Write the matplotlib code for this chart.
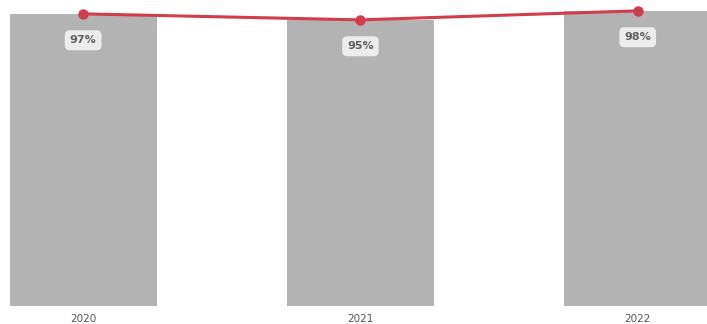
import numpy as np
import matplotlib.pyplot as plt

years = ['2020', '2021', '2022']
values = [97, 95, 98]
labels = ['97%', '95%', '98%']

fig = plt.figure(figsize=(7.07, 3.24), dpi=100)
ax = fig.add_axes([0, 18/324, 1, 306/324])

x = np.arange(len(years))
ax.bar(x, values, width=0.53, color='#b3b3b3', zorder=1)
ax.plot(x, values, color='#d23c4c', lw=2.2, marker='o', ms=6.5, zorder=3)

# value labels in light boxes below the points
for xi, v, lab in zip(x, values, labels):
    ax.annotate(lab, (xi, v), xytext=(0, -19), textcoords='offset points',
                ha='center', va='center', fontsize=8, fontweight='bold', color='#606060',
                bbox=dict(boxstyle='round,pad=0.45', fc='#ececec', ec='none'), zorder=4)

ax.set_xlim(-0.30, 2.25)
ax.set_ylim(0, 101.6)
ax.set_xticks(x)
ax.set_xticklabels(years, fontsize=7.5, color='#555555')
ax.tick_params(axis='x', length=0, pad=6)
ax.set_yticks([])
for s in ax.spines.values():
    s.set_visible(False)

plt.savefig('out.png', dpi=100)
plt.close('all')
